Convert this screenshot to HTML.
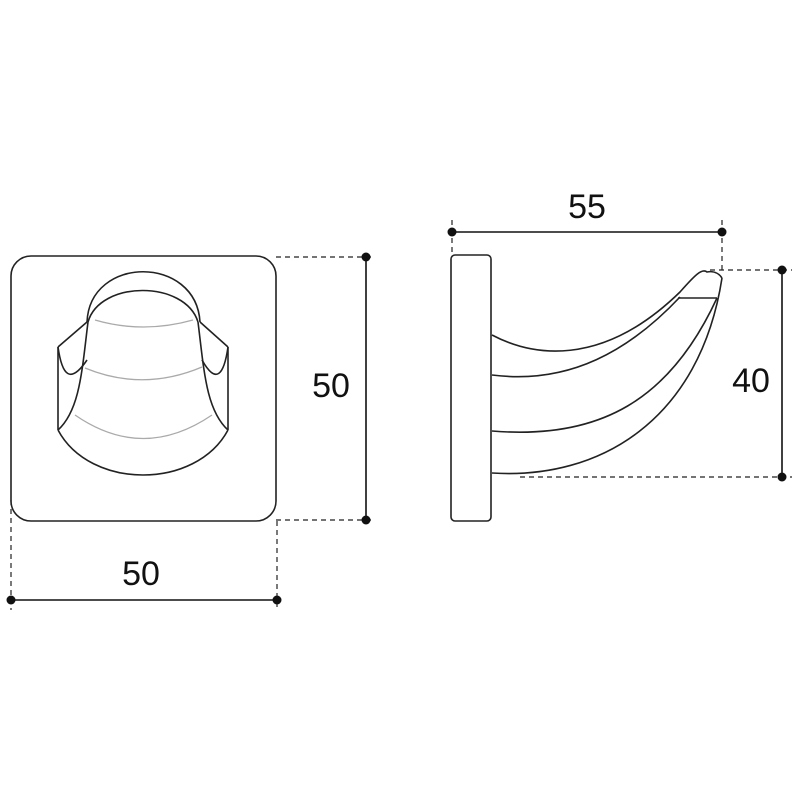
<!DOCTYPE html>
<html><head><style>body{margin:0;background:#fff}svg{display:block}</style></head><body>
<svg width="800" height="800" viewBox="0 0 800 800" xmlns="http://www.w3.org/2000/svg">
<g fill="none" stroke="#222" stroke-width="1.6">
<rect x="11" y="256" width="265" height="265" rx="20"/>
<path d="M87,322 C90,255 196,255 200,322"/>
<path d="M88,322 C100,280 185,280 198,322"/>
<path d="M88,322 C82,370 80,410 58,430"/>
<path d="M198,322 C204,370 206,410 228,430"/>
<path d="M58,347 L87,322 M58,347 C62,375 70,385 87,360"/>
<path d="M228,347 L200,322 M228,347 C224,375 216,385 202,360"/>
<path d="M58,347 L58,430 M228,347 L228,430"/>
<path d="M58,430 C90,490 196,490 228,430"/>
</g>
<g fill="none" stroke="#aaa" stroke-width="1.3">
<path d="M95,320 Q143,334 193,320"/>
<path d="M85,368 Q143,392 202,367"/>
<path d="M75,415 Q143,462 212,415"/>
</g>
<g fill="none" stroke="#222" stroke-width="1.6">
<rect x="451" y="255" width="40" height="266" rx="4"/>
<path d="M492,335 C530,355 600,370 680,292 C695,275 702,268 707,272 C712,271 718,272 722,278"/>
<path d="M492,375 C570,385 630,350 680,297"/>
<path d="M492,431 C600,440 670,400 717,298"/>
<path d="M492,473 C600,480 700,420 722,278"/>
<path d="M678,298 L717,298"/>
</g>
<g stroke="#222" stroke-width="1.2" stroke-dasharray="5,4" fill="none">
<path d="M11,500 V610 M277,521 V610"/>
<path d="M276,257 H375 M276,520 H375"/>
<path d="M452,220 V255 M722,220 V272"/>
<path d="M710,270 H792 M520,477 H792"/>
</g>
<g stroke="#111" stroke-width="1.6">
<path d="M11,600 H277 M366,257 V520 M452,232 H722 M782,270 V477"/>
</g>
<g fill="#111">
<circle cx="11" cy="600" r="4.5"/><circle cx="277" cy="600" r="4.5"/>
<circle cx="366" cy="257" r="4.5"/><circle cx="366" cy="520" r="4.5"/>
<circle cx="452" cy="232" r="4.5"/><circle cx="722" cy="232" r="4.5"/>
<circle cx="782" cy="270" r="4.5"/><circle cx="782" cy="477" r="4.5"/>
</g>
<g font-family="Liberation Sans, sans-serif" font-size="34" fill="#111" text-anchor="middle">
<text x="141" y="585">50</text>
<text x="331" y="397">50</text>
<text x="587" y="218">55</text>
<text x="751" y="392">40</text>
</g>
</svg>
</body></html>
